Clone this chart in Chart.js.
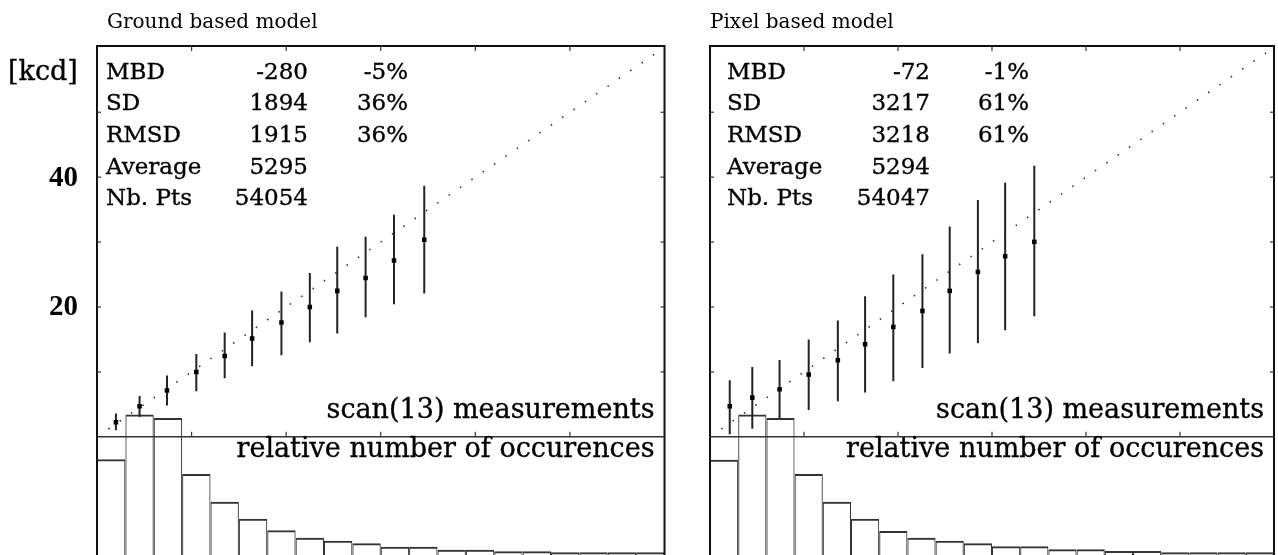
<!DOCTYPE html>
<html>
<head>
<meta charset="utf-8">
<script src="https://cdn.jsdelivr.net/npm/chart.js@4.4.1/dist/chart.umd.min.js"></script>
<style>
  html, body { margin: 0; padding: 0; background: #fff; overflow: hidden; width: 1278px; height: 555px; }
  canvas { position: absolute; top: 0; display: block; }
  #ground { left: 0; }
  #pixel { left: 680px; }
</style>
</head>
<body>
<canvas id="ground" width="680" height="560"></canvas>
<canvas id="pixel" width="598" height="560"></canvas>
<script>
// ---- histogram bins (3 kcd wide) ----
const binCenters = [1.5, 4.5, 7.5, 10.5, 13.5, 16.5, 19.5, 22.5, 25.5, 28.5,
                    31.5, 34.5, 37.5, 40.5, 43.5, 46.5, 49.5, 52.5, 55.5, 58.5];
// relative number of occurences per bin [%]
const groundHist = [14.3, 20.9, 20.4, 12.1, 8.0, 5.5, 3.8, 2.7, 2.26, 1.88,
                    1.37, 1.37, 0.93, 0.93, 0.69, 0.69, 0.55, 0.55, 0.55, 0.55];
const pixelHist  = [14.2, 20.9, 20.4, 12.1, 8.0, 5.5, 3.7, 2.7, 2.26, 1.88,
                    1.43, 1.43, 0.99, 0.99, 0.74, 0.74, 0.55, 0.55, 0.55, 0.55];

// ---- binned model vs measurement [kcd] ----
const groundX    = [2.0, 4.5, 7.4, 10.5, 13.5, 16.4, 19.5, 22.5, 25.4, 28.4, 31.4, 34.6];
const groundMean = [2.24, 4.70, 7.12, 9.99, 12.46, 15.14, 17.60, 20.01, 22.48, 24.48, 27.16, 30.35];
const groundLow  = [1.00, 3.05, 4.81, 7.01, 9.02, 10.87, 12.56, 14.57, 15.91, 18.42, 20.43, 22.07];
const groundHigh = [3.58, 6.29, 9.43, 12.76, 16.06, 19.45, 22.38, 25.25, 29.26, 30.80, 34.22, 38.69];

const pixelX    = [2.1, 4.5, 7.4, 10.5, 13.6, 16.5, 19.5, 22.6, 25.5, 28.5, 31.4, 34.5];
const pixelMean = [4.70, 6.04, 7.32, 9.59, 11.79, 14.26, 16.93, 19.39, 22.48, 25.40, 27.82, 30.03];
const pixelLow  = [0.39, 1.26, 2.85, 4.13, 5.47, 6.81, 8.56, 10.61, 12.83, 14.41, 16.42, 18.58];
const pixelHigh = [8.71, 10.76, 11.84, 14.98, 17.91, 21.66, 25.00, 28.13, 32.40, 36.46, 39.12, 41.75];

// ---- statistics tables ----
const statLabels  = ['MBD', 'SD', 'RMSD', 'Average', 'Nb. Pts'];
const groundStats = ['-280', '1894', '1915', '5295', '54054'];
const groundPct   = ['-5%', '36%', '36%', '', ''];
const pixelStats  = ['-72', '3217', '3218', '5294', '54047'];
const pixelPct    = ['-1%', '61%', '61%', '', ''];

// ---- axes ----
const identityLine = [0, 60];          // 1:1 reference line
const xTickValues = [10, 20, 30, 40, 50];
const yTickValues = [10, 20, 30, 40, 50];
const yLabelValues = [20, 40];
const xRange = [0, 60];
const yRange = [-18.36, 60.2];
const histRange = [0, 75.33];

const SERIF = '"DejaVu Serif", serif';

// text with a hairline outline so the serif face reads a little heavier
function heavyText(ctx, s, x, y) {
  ctx.fillText(s, x, y);
  ctx.strokeText(s, x, y);
}

// frame, inner tick marks, separator, y labels and the panel texts
const panelDecor = {
  id: 'panelDecor',
  afterDraw(chart, args, o) {
    const { ctx, chartArea: a, scales } = chart;
    const xs = scales.x, ys = scales.y;
    const y0 = ys.getPixelForValue(0);
    ctx.save();
    const seg = (x1, y1, x2, y2) => { ctx.beginPath(); ctx.moveTo(x1, y1); ctx.lineTo(x2, y2); ctx.stroke(); };

    ctx.strokeStyle = '#111';
    ctx.lineWidth = 2;
    ctx.strokeRect(a.left, a.top, a.right - a.left, a.bottom - a.top + 20);

    ctx.strokeStyle = '#333';
    ctx.lineWidth = 1.5;
    seg(a.left, y0, a.right, y0);

    ctx.lineWidth = 1.2;
    xTickValues.forEach(v => {
      const px = xs.getPixelForValue(v);
      seg(px, a.top, px, a.top + 5);
      seg(px, y0, px, y0 - 5);
    });
    yTickValues.forEach(v => {
      const py = ys.getPixelForValue(v);
      seg(a.left, py, a.left + 4, py);
      seg(a.right, py, a.right - 4, py);
    });

    ctx.fillStyle = '#000';
    ctx.strokeStyle = '#000';
    ctx.lineWidth = 0.35;
    ctx.textBaseline = 'alphabetic';
    ctx.font = '20px ' + SERIF;
    ctx.textAlign = 'left';
    ctx.fillText(o.title, a.left + o.titleDx, 28);

    ctx.font = '23px ' + SERIF;
    statLabels.forEach((lab, i) => {
      const by = 78.5 + i * 31.7;
      ctx.textAlign = 'left';
      heavyText(ctx, lab, a.left + o.labelDx, by);
      ctx.textAlign = 'right';
      heavyText(ctx, o.values[i], a.left + o.valueDx, by);
      if (o.pct[i]) heavyText(ctx, o.pct[i], a.left + o.pctDx, by);
    });

    ctx.font = '27px ' + SERIF;
    ctx.textAlign = 'right';
    heavyText(ctx, 'scan(13) measurements', a.right - 10, 418);
    heavyText(ctx, 'relative number of occurences', a.right - 10, 457);

    if (o.showY) {
      ctx.textAlign = 'left';
      heavyText(ctx, '[kcd]', 8, 80);
      ctx.font = 'bold 29px "Liberation Serif", serif';
      ctx.textAlign = 'right';
      ctx.textBaseline = 'middle';
      yLabelValues.forEach(v => ctx.fillText(String(v), a.left - 19, ys.getPixelForValue(v) + 1));
    }
    ctx.restore();
  }
};

function makePanel(canvasId, cfg) {
  const errorSegments = cfg.x.flatMap((x, i) => [
    { x, y: cfg.low[i] }, { x, y: cfg.high[i] }, { x, y: null }
  ]);
  return new Chart(document.getElementById(canvasId), {
    type: 'bar',
    data: {
      datasets: [
        {
          type: 'scatter',
          data: cfg.x.map((x, i) => ({ x, y: cfg.mean[i] })),
          pointStyle: 'rect', pointRadius: 3.2, pointBorderWidth: 0,
          backgroundColor: '#000', borderColor: '#000',
          xAxisID: 'x', yAxisID: 'y'
        },
        {
          type: 'line',
          data: errorSegments,
          borderColor: '#222', borderWidth: 2, pointRadius: 0,
          spanGaps: false, fill: false, tension: 0,
          xAxisID: 'x', yAxisID: 'y'
        },
        {
          type: 'line',
          data: identityLine.map(v => ({ x: v, y: v })),
          borderColor: '#333', borderWidth: 1.6, borderDash: [1.5, 12.26],
          pointRadius: 0, fill: false,
          xAxisID: 'x', yAxisID: 'y'
        },
        {
          type: 'bar',
          data: binCenters.map((x, i) => ({ x, y: cfg.hist[i] })),
          backgroundColor: 'rgba(0,0,0,0)', borderColor: '#333',
          borderWidth: { top: 2, left: 1, right: 1, bottom: 0 },
          barPercentage: 1, categoryPercentage: 1, grouped: false, inflateAmount: 0,
          xAxisID: 'x', yAxisID: 'yh'
        }
      ]
    },
    options: {
      responsive: false,
      animation: false,
      devicePixelRatio: 1,
      layout: { padding: cfg.padding },
      plugins: {
        legend: { display: false },
        tooltip: { enabled: false },
        panelDecor: cfg.decor
      },
      scales: {
        x: { type: 'linear', display: false, offset: false, min: xRange[0], max: xRange[1],
             ticks: { stepSize: 10 }, grid: { offset: false } },
        y: { type: 'linear', display: false, min: yRange[0], max: yRange[1] },
        yh: { type: 'linear', display: false, min: histRange[0], max: histRange[1] }
      }
    },
    plugins: [panelDecor]
  });
}

makePanel('ground', {
  x: groundX, mean: groundMean, low: groundLow, high: groundHigh, hist: groundHist,
  padding: { left: 97, top: 46, right: 15.5, bottom: 4 },
  decor: { title: 'Ground based model', values: groundStats, pct: groundPct, titleDx: 10,
           labelDx: 9, valueDx: 211, pctDx: 311, showY: true }
});

makePanel('pixel', {
  x: pixelX, mean: pixelMean, low: pixelLow, high: pixelHigh, hist: pixelHist,
  padding: { left: 30, top: 46, right: 1, bottom: 4 },
  decor: { title: 'Pixel based model', values: pixelStats, pct: pixelPct, titleDx: 0,
           labelDx: 17, valueDx: 220, pctDx: 319, showY: false }
});
</script>
</body>
</html>
